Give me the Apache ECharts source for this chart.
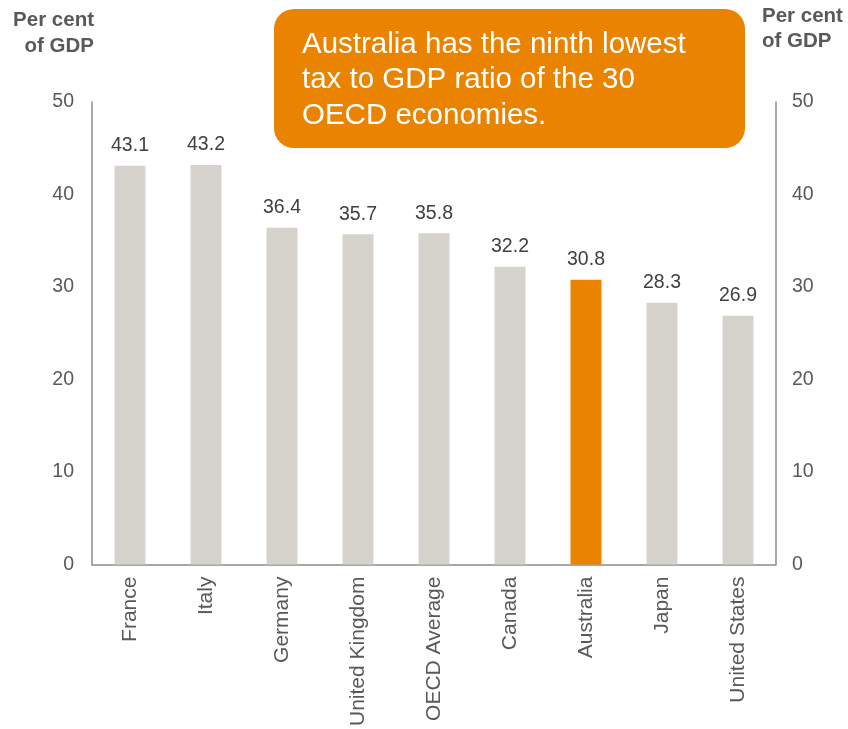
<!DOCTYPE html>
<html><head><meta charset="utf-8">
<script src="https://cdn.jsdelivr.net/npm/echarts@6/dist/echarts.min.js"></script>
<style>html,body{margin:0;padding:0;background:#fff}#c{width:848px;height:729px}</style>
</head><body><div id="c"></div>
<script>
const categories = ['France','Italy','Germany','United Kingdom','OECD Average','Canada','Australia','Japan','United States'];
const values = [43.1, 43.2, 36.4, 35.7, 35.8, 32.2, 30.8, 28.3, 26.9];
const highlight = 'Australia';
const axisTitle = 'Per cent\nof GDP';
const note = 'Australia has the ninth lowest\ntax to GDP ratio of the 30\nOECD economies.';

const FONT = '"Liberation Sans", Arial, sans-serif';
const chart = echarts.init(document.getElementById('c'));
const axisCommon = {
  type: 'value', min: 0, max: 50, interval: 10,
  splitLine: { show: false },
  axisTick: { show: false },
  axisLine: { show: true, lineStyle: { color: '#8c8c8c', width: 1.5 } },
  axisLabel: { color: '#595959', fontSize: 19.5, fontFamily: FONT, margin: 18 }
};
chart.setOption({
  animation: false,
  textStyle: { fontFamily: FONT },
  grid: { left: 92, right: 72, top: 102, bottom: 164, containLabel: false },
  xAxis: {
    type: 'category', data: categories,
    axisTick: { show: false },
    axisLine: { lineStyle: { color: '#8c8c8c', width: 1.5 } },
    axisLabel: { rotate: 90, color: '#595959', fontSize: 21, fontFamily: FONT, margin: 12, interval: 0 }
  },
  yAxis: [
    Object.assign({}, axisCommon, { position: 'left' }),
    Object.assign({}, axisCommon, { position: 'right', axisLabel: Object.assign({}, axisCommon.axisLabel, { margin: 16 }) })
  ],
  series: [{
    type: 'bar', barWidth: 31,
    data: values.map((v, i) => ({ value: v, itemStyle: { color: categories[i] === highlight ? '#E98300' : '#D5D3CB' } })),
    label: { show: true, position: 'top', distance: 10, color: '#404040', fontSize: 19.5, fontFamily: FONT, formatter: p => p.value.toFixed(1) }
  }],
  graphic: [
    { type: 'text', x: 94, y: 33, style: { text: axisTitle, fill: '#595959', font: 'bold 20.5px ' + FONT, align: 'right', verticalAlign: 'middle', lineHeight: 26 } },
    { type: 'text', x: 762, y: 29, style: { text: axisTitle, fill: '#595959', font: 'bold 20.5px ' + FONT, align: 'left', verticalAlign: 'middle', lineHeight: 25 } },
    { type: 'rect', shape: { x: 274, y: 9, width: 471, height: 139, r: 20 }, style: { fill: '#E98300' } },
    { type: 'text', x: 302, y: 80, style: { text: note, fill: '#ffffff', font: '29.5px ' + FONT, verticalAlign: 'middle', lineHeight: 35.5 } }
  ]
});
</script></body></html>
